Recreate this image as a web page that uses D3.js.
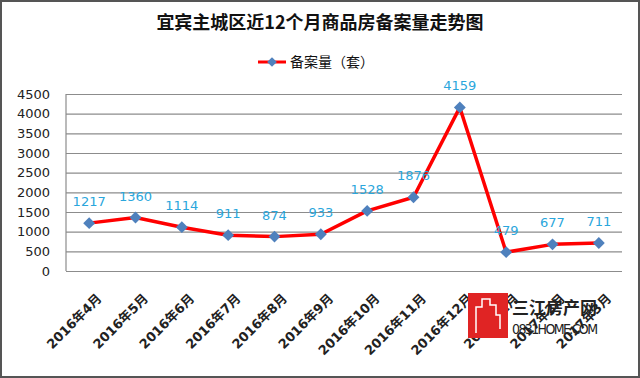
<!DOCTYPE html>
<html>
<head>
<meta charset="utf-8">
<script src="https://cdn.jsdelivr.net/npm/d3@7"></script>
<style>
  body { margin: 0; background: #fff; }
  svg { display: block; }
</style>
</head>
<body>
<div id="chart"></div>
<script>
// 宜宾主城区近12个月商品房备案量

const months = ['2016年4月', '2016年5月', '2016年6月', '2016年7月', '2016年8月', '2016年9月',
    '2016年10月', '2016年11月', '2016年12月', '2017年1月', '2017年2月', '2017年3月'];
const counts = [1217, 1360, 1114, 911, 874, 933, 1528, 1876, 4159, 479, 677, 711];
const yTicks = [0, 500, 1000, 1500, 2000, 2500, 3000, 3500, 4000, 4500];

const W = 640, H = 378;
const margin = { top: 94, right: 18, bottom: 107, left: 66 };
const width = W - margin.left - margin.right;
const height = H - margin.top - margin.bottom;
const font = '"DejaVu Sans", "Noto Sans CJK SC", sans-serif';

const svg = d3.select('#chart').append('svg')
    .attr('width', W)
    .attr('height', H);

// frame
svg.append('rect')
    .attr('x', 1).attr('y', 1)
    .attr('width', W - 2).attr('height', H - 2)
    .attr('fill', '#fff')
    .attr('stroke', '#555')
    .attr('stroke-width', 2);

// title
svg.append('text')
    .attr('x', 320)
    .attr('y', 29)
    .attr('text-anchor', 'middle')
    .attr('font-family', '"Noto Sans CJK SC", sans-serif')
    .attr('font-size', '18px')
    .attr('font-weight', 'bold')
    .attr('fill', '#111')
    .text('宜宾主城区近12个月商品房备案量走势图');

// legend
const legend = svg.append('g').attr('transform', 'translate(258,62)');
legend.append('line')
    .attr('x1', 0).attr('x2', 28)
    .attr('stroke', '#ff0000')
    .attr('stroke-width', 3);
legend.append('path')
    .attr('d', d3.symbol(d3.symbolDiamond2, 60)())
    .attr('transform', 'translate(14,0)')
    .attr('fill', '#4f81bd');
legend.append('text')
    .attr('x', 32)
    .attr('dy', '0.36em')
    .attr('font-family', '"Noto Sans CJK SC", sans-serif')
    .attr('font-size', '14px')
    .attr('fill', '#111')
    .text('备案量（套）');

const g = svg.append('g')
    .attr('transform', `translate(${margin.left},${margin.top})`);

// Scales
const x = d3.scaleBand()
    .domain(months)
    .range([0, width]);

const y = d3.scaleLinear()
    .domain([0, 4500])
    .range([height, 0]);

const cx = d => x(d) + x.bandwidth() / 2;

// Grid
g.append('g')
    .attr('class', 'grid')
    .call(d3.axisLeft(y)
        .tickValues(yTicks)
        .tickSize(-width)
        .tickFormat(''))
    .call(s => s.select('.domain').remove())
    .selectAll('line')
    .attr('stroke', '#8c8c8c')
    .attr('stroke-width', 1.2);

// left axis line
g.append('line')
    .attr('x1', 0).attr('x2', 0)
    .attr('y1', 0).attr('y2', height)
    .attr('stroke', '#8c8c8c')
    .attr('stroke-width', 1.2);

// Y labels
g.append('g')
    .call(d3.axisLeft(y).tickValues(yTicks).tickFormat(d3.format('d')).tickSize(0).tickPadding(16))
    .call(s => s.select('.domain').remove())
    .selectAll('text')
    .attr('font-family', font)
    .attr('font-size', '13px')
    .attr('fill', '#222');

// X labels
g.append('g')
    .attr('transform', `translate(0,${height})`)
    .call(d3.axisBottom(x).tickSize(0))
    .call(s => s.select('.domain').remove())
    .selectAll('text')
    .attr('font-family', font)
    .attr('font-size', '13px')
    .attr('font-weight', 'bold')
    .attr('fill', '#222')
    .attr('text-anchor', 'end')
    .attr('dy', '0.35em')
    .attr('transform', 'translate(8,23) rotate(-45)');

// Line
const data = months.map((m, i) => ({ month: m, value: counts[i] }));

g.append('path')
    .datum(data)
    .attr('fill', 'none')
    .attr('stroke', '#ff0000')
    .attr('stroke-width', 3.5)
    .attr('stroke-linejoin', 'round')
    .attr('d', d3.line().x(d => cx(d.month)).y(d => y(d.value)));

// Markers
g.selectAll('.dot')
    .data(data)
    .enter()
    .append('path')
    .attr('class', 'dot')
    .attr('d', d3.symbol(d3.symbolDiamond2, 90)())
    .attr('transform', d => `translate(${cx(d.month)},${y(d.value)})`)
    .attr('fill', '#4f81bd');

// Values
g.selectAll('.value')
    .data(data)
    .enter()
    .append('text')
    .attr('class', 'value')
    .attr('x', d => cx(d.month))
    .attr('y', d => y(d.value) - 17)
    .attr('text-anchor', 'middle')
    .attr('font-family', font)
    .attr('font-size', '13px')
    .attr('fill', '#2aa6dc')
    .text(d => d.value);

// watermark
const wm = svg.append('g').attr('transform', 'translate(468,293)');
wm.append('rect')
    .attr('width', 40).attr('height', 45)
    .attr('fill', '#e02424');
wm.append('path')
    .attr('d', 'M8,40 V14 H14 V6 H22 V12 H28 V22 H32 V36')
    .attr('fill', 'none')
    .attr('stroke', '#fff')
    .attr('stroke-width', 1.5);
wm.append('text')
    .attr('x', 44).attr('y', 21)
    .attr('font-family', '"Noto Sans CJK SC", sans-serif')
    .attr('font-size', '17px')
    .attr('font-weight', 'bold')
    .attr('fill', '#222')
    .text('三江房产网');
wm.append('text')
    .attr('x', 44).attr('y', 41)
    .attr('font-family', '"Liberation Sans Narrow", "DejaVu Sans Condensed", sans-serif')
    .attr('font-size', '14px')
    .attr('textLength', 86)
    .attr('fill', '#222')
    .text('0831HOME.COM');
</script>
</body>
</html>
